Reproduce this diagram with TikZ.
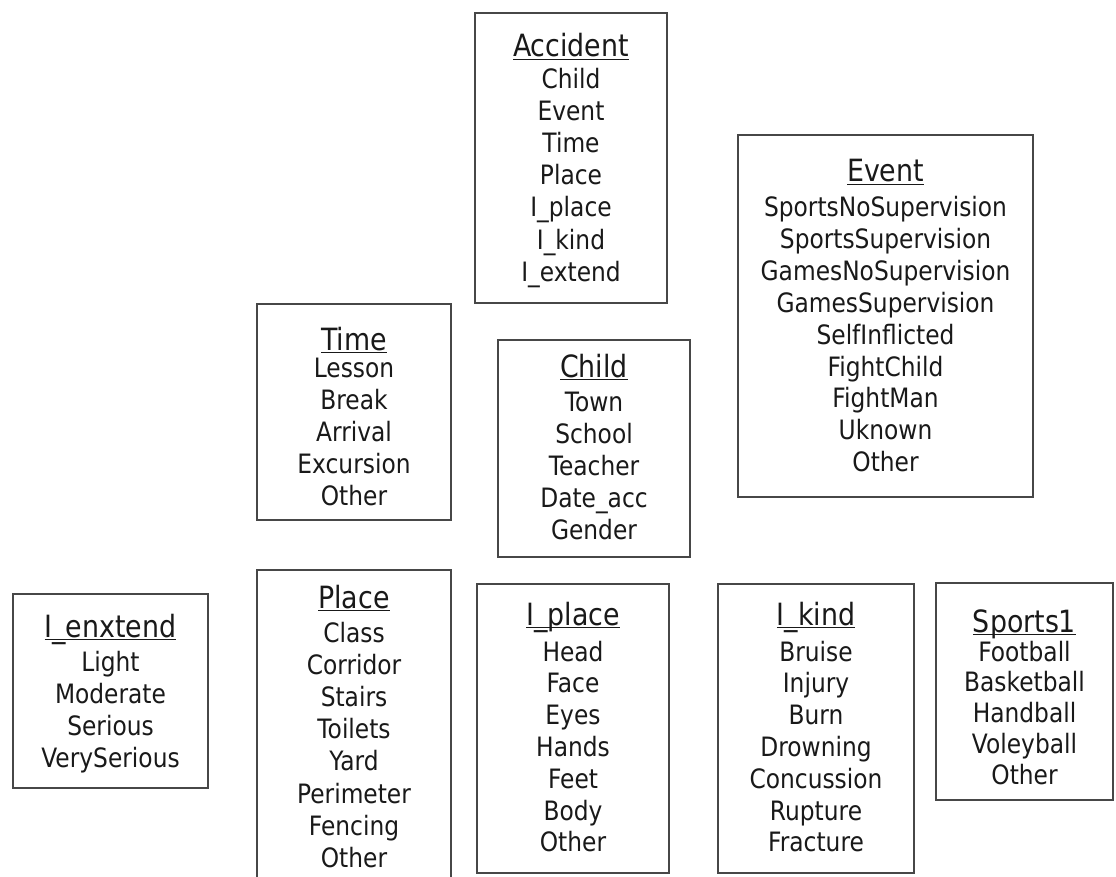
\documentclass[tikz,border=0pt]{standalone}
\usepackage{fontspec}
\setmainfont{DejaVu Sans}[FakeStretch=0.875]
\newcommand\myul[1]{\setbox0\hbox{#1}\rlap{\rule[-2.6pt]{\wd0}{0.9pt}}\box0}
\tikzset{
  box/.style={draw=black!72, line width=0.9pt, rectangle, inner sep=0pt, outer sep=0pt},
  ttl/.style={anchor=base, inner sep=0pt, text=black!90, font=\fontsize{23}{27}\selectfont},
  itm/.style={anchor=base, inner sep=0pt, text=black!90, font=\fontsize{20}{24}\selectfont}
}
% #1 name, #2 x1, #3 y1, #4 x2, #5 y2, #6 title, #7 title y, #8 first item y, #9 spacing; items in \items
\newcommand\mkbox[9]{%
  \node[box, minimum width={(#4-#2)*0.75pt}, minimum height={(#5-#3)*0.75pt}] (#1) at ({(#2+#4)/2},{(#3+#5)/2}) {};
  \node[ttl] (#1-t) at ({(#2+#4)/2},{#7+10}) {\myul{#6}};
  \foreach \t [count=\i] in \items {
    \node[itm] (#1-\i) at ({(#2+#4)/2},{#8+(\i-1)*#9+9}) {\t};
  }
}
\begin{document}
\begin{tikzpicture}[x=0.75pt,y=-0.75pt]
\useasboundingbox (0,0) rectangle (1116,877);
\clip (0,0) rectangle (1116,877);
\fill[white] (0,0) rectangle (1116,877);

\def\items{Child,Event,Time,Place,I\_place,I\_kind,I\_extend}
\mkbox{accident}{475}{13}{667}{303}{Accident}{47}{80}{32}

\def\items{SportsNoSupervision,SportsSupervision,GamesNoSupervision,GamesSupervision,SelfInflicted,FightChild,FightMan,Uknown,Other}
\mkbox{event}{738}{135}{1033}{497}{Event}{172}{208}{31.8}

\def\items{Lesson,Break,Arrival,Excursion,Other}
\mkbox{time}{257}{304}{451}{520}{Time}{340}{368}{32}

\def\items{Town,School,Teacher,Date\_acc,Gender}
\mkbox{child}{498}{340}{690}{557}{Child}{367}{402}{32}

\def\items{Light,Moderate,Serious,VerySerious}
\mkbox{iextend}{13}{594}{208}{788}{I\_enxtend}{627}{662}{32}

\def\items{Class,Corridor,Stairs,Toilets,Yard,Perimeter,Fencing,Other}
\mkbox{place}{257}{570}{451}{905}{Place}{598}{633}{32.2}

\def\items{Head,Face,Eyes,Hands,Feet,Body,Other}
\mkbox{iplace}{477}{584}{669}{873}{I\_place}{615}{652}{31.8}

\def\items{Bruise,Injury,Burn,Drowning,Concussion,Rupture,Fracture}
\mkbox{ikind}{718}{584}{914}{873}{I\_kind}{615}{652}{31.8}

\def\items{Football,Basketball,Handball,Voleyball,Other}
\mkbox{sports}{936}{583}{1113}{800}{Sports1}{622}{652}{30.8}
\end{tikzpicture}
\end{document}
